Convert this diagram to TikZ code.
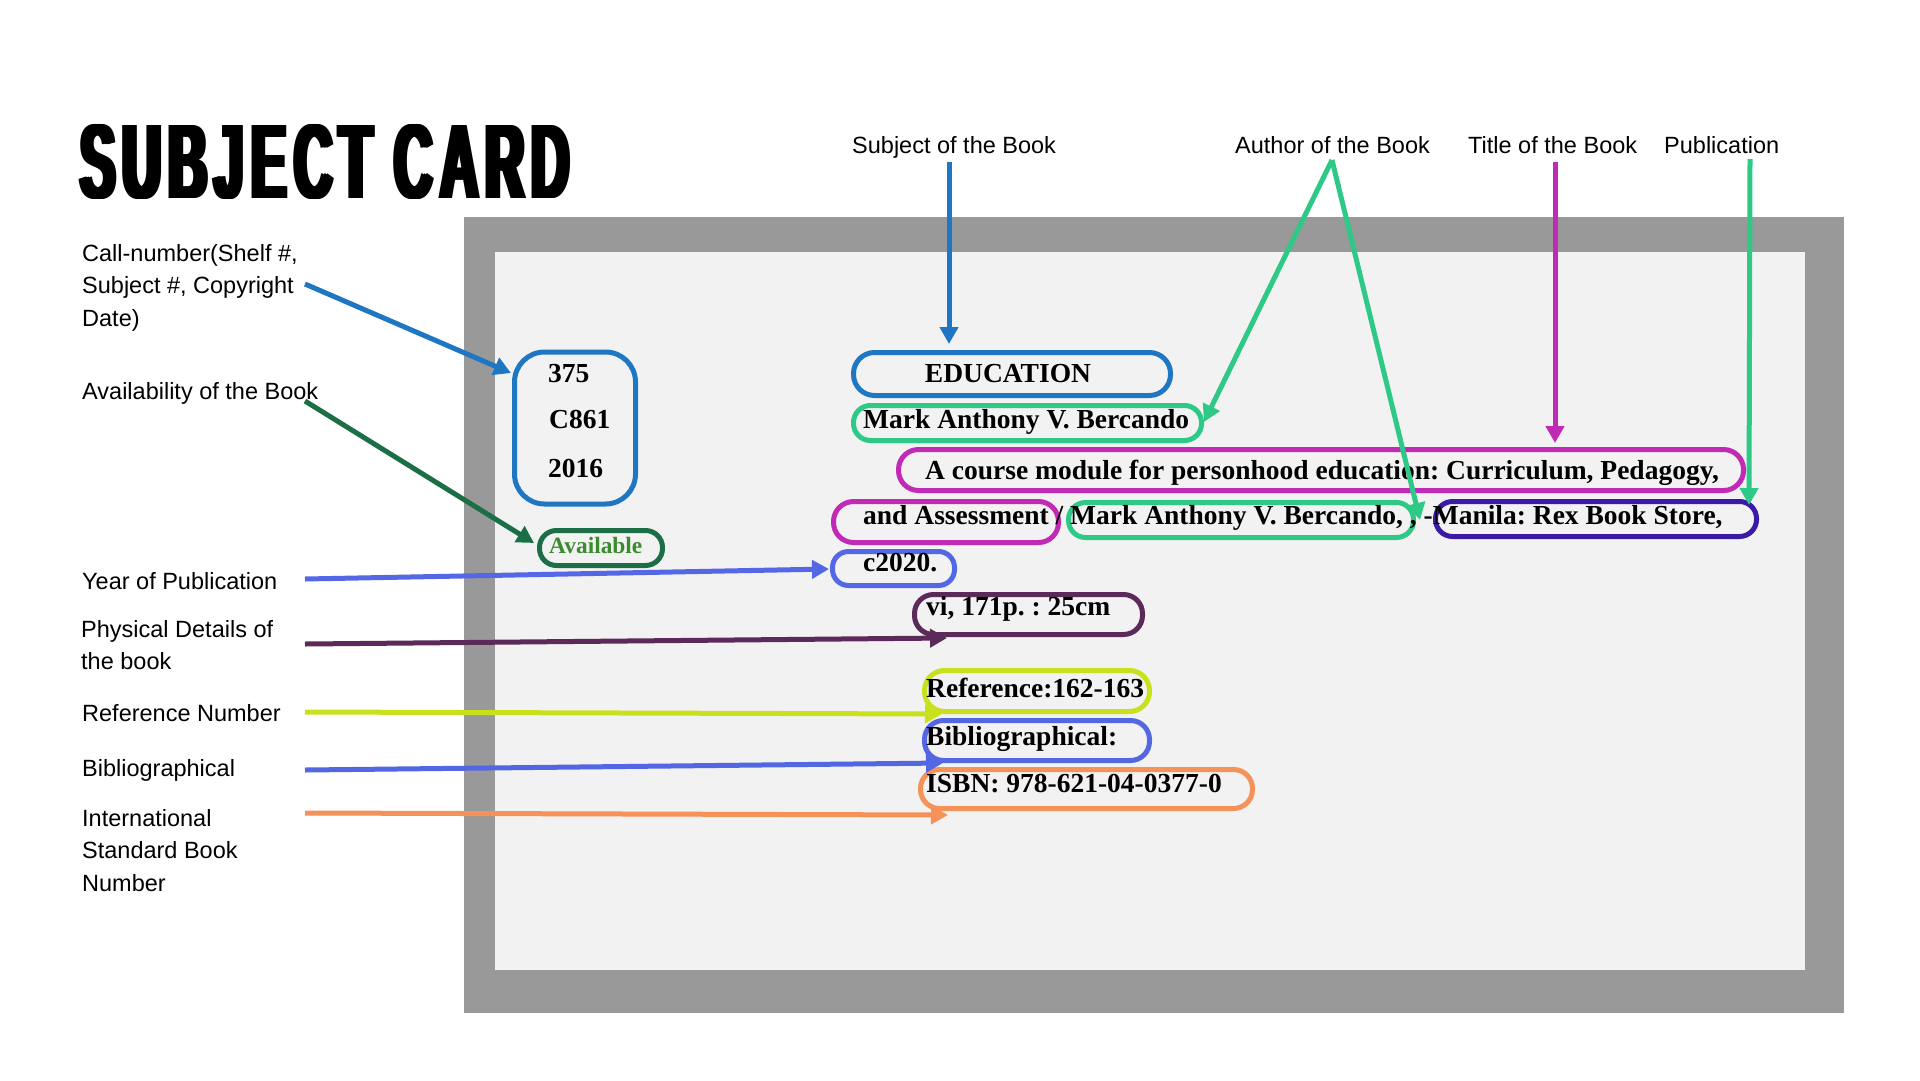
\documentclass[tikz,border=0pt]{standalone}
\usepackage{fontspec}
\usepackage{graphicx}
\setmainfont{Liberation Sans}
\newfontfamily\cardserif{Liberation Serif}
\newfontfamily\titlefont{Liberation Sans}[LetterSpace=14]
\usetikzlibrary{arrows.meta}
\definecolor{cnblue}{HTML}{1F76C2}
\definecolor{availdark}{HTML}{1B6E46}
\definecolor{availtext}{HTML}{3A8C2E}
\definecolor{authgreen}{HTML}{2EC887}
\definecolor{titlemag}{HTML}{C02AB4}
\definecolor{pubindigo}{HTML}{3B1BA6}
\definecolor{yearblue}{HTML}{5468E6}
\definecolor{physpurple}{HTML}{5C2A5A}
\definecolor{reflime}{HTML}{C9E01C}
\definecolor{bibblue}{HTML}{5467E3}
\definecolor{isbnorange}{HTML}{F4925A}
\definecolor{framegray}{HTML}{999999}
\definecolor{cardbg}{HTML}{F2F2F2}
\newcommand\cardfont{\frenchspacing\cardserif\bfseries\fontsize{27.5}{32}\selectfont}
\newcommand\availfont{\cardserif\bfseries\fontsize{23.4}{28}\selectfont}
\newcommand\lblfont{\fontsize{23.5}{32.5}\selectfont}
\newcommand\lbllines[1]{\begin{tabular}[t]{@{}l@{}}#1\end{tabular}}
\tikzset{
  pill/.style={draw=#1, line width=5pt, inner sep=0pt},
  cardtxt/.style={font=\cardfont, inner sep=0pt, anchor=base west, text=black},
  lbl/.style={font=\lblfont, inner sep=0pt, anchor=base west, text=black},
  arr/.style={draw=#1, line width=5pt, -{Triangle[length=17pt,width=18pt]}},
}
\begin{document}
\begin{tikzpicture}[x=1pt,y=-1pt]
\path[use as bounding box, fill=white] (0,0) rectangle (1920,1080);
% card frame
\fill[framegray] (464,217) rectangle (1844,1013);
\fill[cardbg] (495,252) rectangle (1805,970);
% title
\foreach \i in {0,...,4}{
  \node[anchor=south west, inner sep=0pt] (title\i) at ({77+1.6*\i},200)
    {\resizebox{489.6pt}{74pt}{\titlefont\bfseries SUBJECT CARD}};
}
% left labels
\node[lbl] (lcall) at (82,261) {\lbllines{Call-number(Shelf \#,\\Subject \#, Copyright\\Date)}};
\node[lbl] (lavail) at (82,399) {Availability of the Book};
\node[lbl] (lyear) at (82,589) {Year of Publication};
\node[lbl] (lphys) at (81,637) {\lbllines{Physical Details of\\the book}};
\node[lbl] (lref) at (82,721) {Reference Number};
\node[lbl] (lbib) at (82,776) {Bibliographical};
\node[lbl] (lisbn) at (82,826) {\lbllines{International\\Standard Book\\Number}};
% top labels
\node[lbl] (lsubj) at (852,153) {Subject of the Book};
\node[lbl] (lauth) at (1235,153) {Author of the Book};
\node[lbl] (ltitle) at (1468,153) {Title of the Book};
\node[lbl] (lpub) at (1664,153) {Publication};
% boxes
\node[pill=cnblue, minimum width=121pt, minimum height=152pt, rounded corners=30pt] (cnbox) at (575,428) {};
\node[pill=availdark, minimum width=123pt, minimum height=35pt, rounded corners=17pt] (availbox) at (601,548) {};
\node[pill=cnblue, minimum width=317pt, minimum height=43pt, rounded corners=21pt] (edubox) at (1012,374) {};
\node[pill=authgreen, minimum width=348pt, minimum height=35pt, rounded corners=17pt] (auth1box) at (1027.5,423) {};
\node[pill=titlemag, minimum width=845pt, minimum height=41pt, rounded corners=20pt] (title1box) at (1321,470) {};
\node[pill=titlemag, minimum width=225pt, minimum height=41pt, rounded corners=20pt] (title2box) at (946,522) {};
\node[pill=authgreen, minimum width=345pt, minimum height=35pt, rounded corners=17pt] (auth2box) at (1241,520) {};
\node[pill=pubindigo, minimum width=321pt, minimum height=35pt, rounded corners=17pt] (pubbox) at (1596,519) {};
\node[pill=yearblue, minimum width=122pt, minimum height=34pt, rounded corners=16pt] (yearbox) at (893.5,568.5) {};
\node[pill=physpurple, minimum width=228pt, minimum height=40pt, rounded corners=19pt] (physbox) at (1028.5,614.5) {};
\node[pill=reflime, minimum width=225pt, minimum height=41pt, rounded corners=20pt] (refbox) at (1037,691) {};
\node[pill=bibblue, minimum width=225pt, minimum height=40pt, rounded corners=19pt] (bibbox) at (1037,740.5) {};
\node[pill=isbnorange, minimum width=332pt, minimum height=39pt, rounded corners=19pt] (isbnbox) at (1086.5,789) {};
% card texts
\node[cardtxt] (t375) at (548,382) {375};
\node[cardtxt] (tc861) at (549,428) {C861};
\node[cardtxt] (t2016) at (548,477) {2016};
\node[inner sep=0pt, anchor=base west, font=\availfont, text=availtext] (tavail) at (549,553) {Available};
\node[cardtxt, anchor=base] (tedu) at (1008,382) {EDUCATION};
\node[cardtxt] (tauth1) at (863,428) {Mark Anthony V. Bercando};
\node[cardtxt] (ttitle1) at (925,479) {A course module for personhood education: Curriculum, Pedagogy,};
\node[cardtxt] (tline2) at (863,524) {and Assessment / Mark Anthony V. Bercando, , -Manila: Rex Book Store,};
\node[cardtxt] (tyear) at (863,571) {c2020.};
\node[cardtxt] (tphys) at (926,615) {vi, 171p. : 25cm};
\node[cardtxt] (tref) at (926,697) {Reference:162-163};
\node[cardtxt] (tbib) at (926,745) {Bibliographical:};
\node[cardtxt] (tisbn) at (926,792) {ISBN: 978-621-04-0377-0};
% connector coordinates
\coordinate (sCall) at (305,284);  \coordinate (eCall) at (511,373);
\coordinate (sAvail) at (305,401); \coordinate (eAvail) at (534,543);
\coordinate (sYear) at (305,579);  \coordinate (eYear) at (829,569);
\coordinate (sPhys) at (305,644);  \coordinate (ePhys) at (947,638);
\coordinate (sRef) at (305,712);   \coordinate (eRef) at (942,714);
\coordinate (sBib) at (305,770);   \coordinate (eBib) at (943,763);
\coordinate (sIsbn) at (305,813);  \coordinate (eIsbn) at (948,815);
\coordinate (sSubj) at (949,162);  \coordinate (eSubj) at (949,344);
\coordinate (sAuth) at (1332,160); \coordinate (eAuth1) at (1204,422); \coordinate (eAuth2) at (1420,520);
\coordinate (sTitle) at (1555,162); \coordinate (eTitle) at (1555,443);
\coordinate (sPub) at (1750,159);  \coordinate (ePub) at (1749,505);
% connectors
\draw[arr=cnblue] (sCall) -- (eCall);
\draw[arr=availdark] (sAvail) -- (eAvail);
\draw[arr=yearblue] (sYear) -- (eYear);
\draw[arr=physpurple] (sPhys) -- (ePhys);
\draw[arr=reflime] (sRef) -- (eRef);
\draw[arr=bibblue] (sBib) -- (eBib);
\draw[arr=isbnorange] (sIsbn) -- (eIsbn);
\draw[arr=cnblue] (sSubj) -- (eSubj);
\draw[arr=authgreen] (sAuth) -- (eAuth1);
\draw[arr=authgreen] (sAuth) -- (eAuth2);
\draw[arr=titlemag] (sTitle) -- (eTitle);
\draw[arr=authgreen] (sPub) -- (ePub);
\end{tikzpicture}
\end{document}
